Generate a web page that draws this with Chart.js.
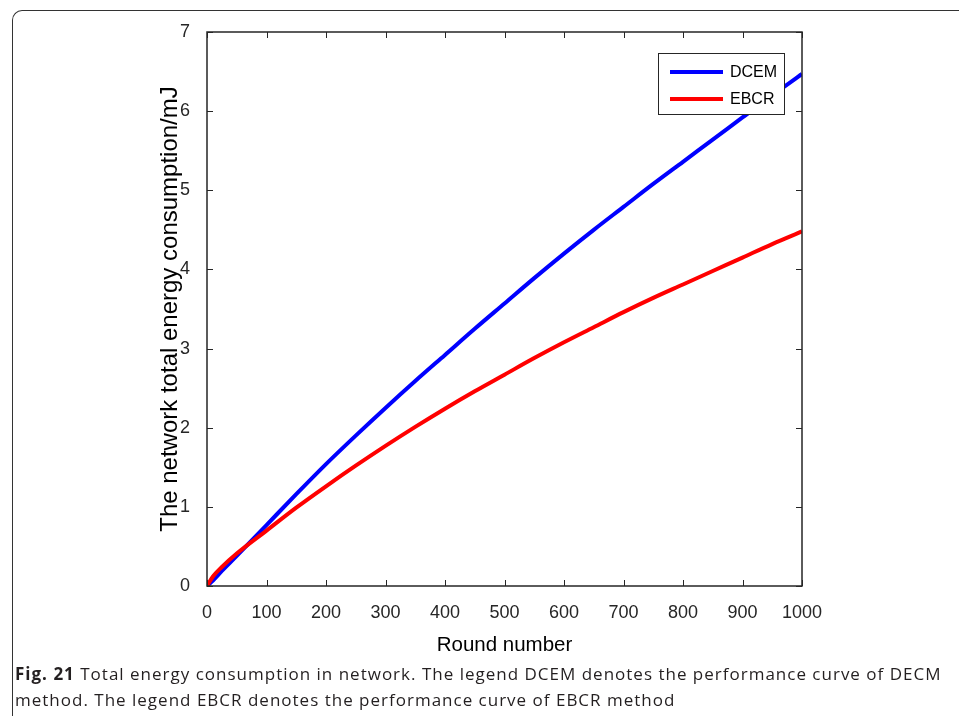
<!DOCTYPE html>
<html>
<head>
<meta charset="utf-8">
<script src="https://cdn.jsdelivr.net/npm/chart.js@4/dist/chart.umd.min.js"></script>
<style>
  html, body { margin: 0; padding: 0; background: #fff; }
  #wrap { position: relative; width: 959px; height: 716px; overflow: hidden; }
  #frame {
    position: absolute; left: 12px; top: 10px; width: 1000px; height: 800px;
    border-top: 1.5px solid #333; border-left: 1.5px solid #333;
    border-top-left-radius: 10px; box-sizing: border-box;
  }
  #chartBox { position: absolute; left: 0; top: 0; width: 959px; height: 716px; }
  #caption {
    position: absolute; left: 15px; top: 661px; width: 945px;
    font-family: "Open Sans", sans-serif; font-size: 17px; line-height: 26px;
    letter-spacing: 1px; color: #231f20; white-space: nowrap;
  }
  #caption b { font-weight: 700; }
</style>
</head>
<body>
<div id="wrap">
  <div id="frame"></div>
  <div id="chartBox"><canvas id="energyChart" width="959" height="716"></canvas></div>
  <div id="caption">
    <b>Fig. 21</b> Total energy consumption in network. The legend DCEM denotes the performance curve of DECM<br>
    method. The legend EBCR denotes the performance curve of EBCR method
  </div>
</div>
<script>
const rounds = [0, 10, 25, 50, 100, 150, 200, 250, 300, 350, 400, 450, 500, 550, 600, 650, 700, 750, 800, 850, 900, 950, 1000];
// Total energy consumption (mJ)
const dcemValues = [0, 0.07, 0.19, 0.38, 0.77, 1.16, 1.54, 1.90, 2.25, 2.59, 2.92, 3.25, 3.57, 3.89, 4.20, 4.50, 4.79, 5.08, 5.36, 5.64, 5.92, 6.20, 6.47];
const ebcrValues = [0, 0.12, 0.24, 0.41, 0.70, 0.99, 1.26, 1.52, 1.77, 2.01, 2.24, 2.46, 2.67, 2.88, 3.08, 3.27, 3.46, 3.64, 3.81, 3.98, 4.15, 4.32, 4.48];
const seriesLabels = ['DCEM', 'EBCR'];
const seriesColors = ['#0000ff', '#ff0000'];
const xTicks = [0, 100, 200, 300, 400, 500, 600, 700, 800, 900, 1000];
const yTicks = [0, 1, 2, 3, 4, 5, 6, 7];

const axisColor = '#262626';
const axisFont = '"Liberation Sans", Arial, sans-serif';

function toPoints(values) {
  return values.map((v, i) => ({ x: rounds[i], y: v }));
}

// Box around the plot, inward ticks on all four sides, and the inset legend
const boxPlugin = {
  id: 'matlabBox',
  afterDatasetsDraw(chart) {
    const ctx = chart.ctx;
    const area = chart.chartArea;
    const xs = chart.scales.x;
    const ys = chart.scales.y;
    const tick = 6;

    ctx.save();
    ctx.strokeStyle = axisColor;
    ctx.lineWidth = 1.5;
    ctx.strokeRect(area.left, area.top, area.right - area.left, area.bottom - area.top);

    ctx.lineWidth = 1;
    ctx.beginPath();
    xTicks.forEach(v => {
      const px = Math.round(xs.getPixelForValue(v)) + 0.5;
      ctx.moveTo(px, area.bottom); ctx.lineTo(px, area.bottom - tick);
      ctx.moveTo(px, area.top); ctx.lineTo(px, area.top + tick);
    });
    yTicks.forEach(v => {
      const py = Math.round(ys.getPixelForValue(v)) + 0.5;
      ctx.moveTo(area.left, py); ctx.lineTo(area.left + tick, py);
      ctx.moveTo(area.right, py); ctx.lineTo(area.right - tick, py);
    });
    ctx.stroke();

    // legend
    const boxW = 126, boxH = 61;
    const bx = area.right - 144;
    const by = area.top + 21;
    ctx.fillStyle = '#fff';
    ctx.fillRect(bx, by, boxW, boxH);
    ctx.strokeStyle = axisColor;
    ctx.lineWidth = 1;
    ctx.strokeRect(bx + 0.5, by + 0.5, boxW, boxH);

    ctx.font = '16px ' + axisFont;
    ctx.textBaseline = 'middle';
    chart.data.datasets.forEach((ds, i) => {
      const rowY = by + 19 + i * 27;
      ctx.strokeStyle = ds.borderColor;
      ctx.lineWidth = 4;
      ctx.beginPath();
      ctx.moveTo(bx + 12, rowY);
      ctx.lineTo(bx + 65, rowY);
      ctx.stroke();
      ctx.fillStyle = '#000';
      ctx.fillText(ds.label, bx + 72, rowY + 1);
    });
    ctx.restore();
  }
};

const ctx = document.getElementById('energyChart').getContext('2d');
new Chart(ctx, {
  type: 'line',
  data: {
    datasets: [
      {
        label: seriesLabels[0],
        data: toPoints(dcemValues),
        borderColor: seriesColors[0],
        borderWidth: 4,
        pointRadius: 0,
        cubicInterpolationMode: 'monotone',
        fill: false,
        order: 1
      },
      {
        label: seriesLabels[1],
        data: toPoints(ebcrValues),
        borderColor: seriesColors[1],
        borderWidth: 4,
        pointRadius: 0,
        cubicInterpolationMode: 'monotone',
        fill: false,
        order: 0
      }
    ]
  },
  options: {
    responsive: false,
    animation: false,
    layout: {
      padding: { left: 150, top: 32, right: 157, bottom: 0 }
    },
    plugins: {
      legend: { display: false },
      tooltip: { enabled: false }
    },
    scales: {
      x: {
        type: 'linear',
        min: 0,
        max: 1000,
        afterBuildTicks: (scale) => { scale.ticks = xTicks.map(v => ({ value: v })); },
        afterFit: (scale) => { scale.height = 130; },
        grid: { display: false },
        border: { display: false },
        ticks: {
          color: axisColor,
          font: { family: axisFont, size: 18 },
          padding: 8,
          maxRotation: 0,
          callback: (val) => String(val)
        },
        title: {
          display: true,
          text: 'Round number',
          color: '#000',
          font: { family: axisFont, size: 20.5 },
          padding: { top: 0, bottom: 58 }
        }
      },
      y: {
        type: 'linear',
        min: 0,
        max: 7,
        afterBuildTicks: (scale) => { scale.ticks = yTicks.map(v => ({ value: v })); },
        afterFit: (scale) => { scale.width = 57; },
        grid: { display: false },
        border: { display: false },
        ticks: {
          color: axisColor,
          font: { family: axisFont, size: 18 },
          padding: 9
        },
        title: {
          display: true,
          text: 'The network total energy consumption/mJ',
          color: '#000',
          font: { family: axisFont, size: 24 },
          padding: { top: 6, bottom: 0 }
        }
      }
    }
  },
  plugins: [boxPlugin]
});
</script>
</body>
</html>
